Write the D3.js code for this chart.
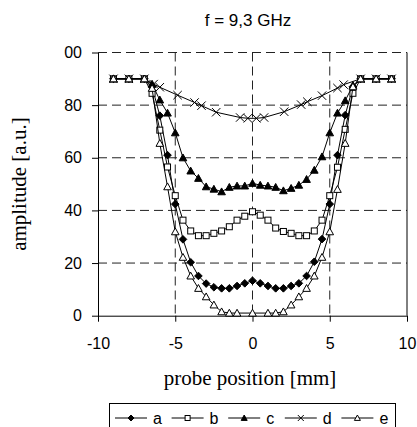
<!DOCTYPE html>
<html>
<head>
<meta charset="utf-8">
<script src="https://cdn.jsdelivr.net/npm/d3@7"></script>
<style>
  body { margin: 0; background: #fff; }
  svg { display: block; }
</style>
</head>
<body>
<div class="chart"></div>
<script>
var svgWidth = 417;
var svgHeight = 427;

// probe positions [mm] shared by series a, b, c, e
var positions = [-9, -8, -7, -6.5, -6, -5.5, -5, -4.5, -4, -3.5, -3, -2.5, -2, -1.5, -1, -0.5,
  0, 0.5, 1, 1.5, 2, 2.5, 3, 3.5, 4, 4.5, 5, 5.5, 6, 6.5, 7, 8, 9];

var seriesA = [90, 90, 90, 87, 76, 61, 42.4, 29, 20.3, 15.1, 12.2, 10.8, 10.4, 10.4, 11.3, 12.3,
  13.3, 12.3, 11.3, 10.4, 10.4, 11.3, 12.3, 15.1, 20.5, 29.1, 42.4, 61, 76.2, 87, 90, 90, 90];
var seriesB = [90, 90, 90, 84.5, 70.5, 56.5, 45.6, 36.3, 32.2, 30.4, 30.4, 31.3, 32.2, 33.8, 36.3, 37.8,
  39.5, 38.2, 36.3, 33.3, 32, 31.3, 30.4, 30.4, 32.2, 36.3, 45.6, 56.4, 70.8, 84.5, 90, 90, 90];
var seriesC = [90, 90, 90, 88, 82, 77, 69.5, 60, 55, 52.2, 49, 48.1, 47.1, 48.8, 49.3, 49.3,
  50.3, 49.6, 49.3, 48.8, 47.5, 48.4, 49.6, 51.8, 55.3, 60.4, 69.5, 77, 81.7, 87.5, 90, 90, 90];
var seriesE = [90, 90, 90, 86.4, 65.5, 49, 31.9, 22.2, 15.1, 10.4, 7.2, 4.1, 1.5, 1, 1, null,
  1, null, 1, 1, 1.5, 4.1, 7.2, 10.4, 15.1, 22.2, 31.9, 48, 65.5, 87, 90, 90, 90];

// series d was sampled at its own positions
var positionsD = [-9, -8, -7, -6.4, -6, -4.85, -3.75, -3.3, -2.35, -0.8, -0.3, 0.25, 0.75,
  2.05, 3.15, 3.55, 4.5, 5.5, 5.9, 7, 8, 9];
var seriesD = [90, 90, 90, 88, 86.8, 83.8, 81, 79.8, 77.3, 75.3, 75, 75, 75.3,
  77.5, 80.2, 81.3, 83.6, 86.5, 87.8, 90, 90, 90];

var seriesNames = ["a", "b", "c", "d", "e"];
var xTicks = [-10, -5, 0, 5, 10];
var xTickLabels = ["-10", "-5", "0", "5", "10"];
var yTicks = [0, 20, 40, 60, 80, 100];
var yTickLabels = ["0", "20", "40", "60", "80", "00"];

var plot = { left: 98, right: 407, top: 52.5, bottom: 315.7 };

var svg = d3.select(".chart")
  .append("svg")
  .attr("width", svgWidth)
  .attr("height", svgHeight);

var x = d3.scaleLinear().domain([-10, 10]).range([plot.left, plot.right]);
var y = d3.scaleLinear().domain([0, 100]).range([plot.bottom, plot.top]);

// dashed grid
svg.append("g").selectAll("line")
  .data(yTicks.filter(function(d) { return d > 0; }))
  .join("line")
  .attr("x1", plot.left).attr("x2", plot.right)
  .attr("y1", function(d) { return y(d); }).attr("y2", function(d) { return y(d); })
  .attr("stroke", "#222").attr("stroke-dasharray", "9,5");

svg.append("g").selectAll("line")
  .data([-5, 0, 5])
  .join("line")
  .attr("x1", function(d) { return x(d); }).attr("x2", function(d) { return x(d); })
  .attr("y1", plot.top).attr("y2", plot.bottom)
  .attr("stroke", "#222").attr("stroke-dasharray", "9,5");

// right border
svg.append("line")
  .attr("x1", plot.right).attr("x2", plot.right)
  .attr("y1", plot.top).attr("y2", plot.bottom)
  .attr("stroke", "#000");

// axes
var xAxis = d3.axisBottom(x)
  .tickValues(xTicks)
  .tickSize(6)
  .tickSizeOuter(0)
  .tickPadding(16)
  .tickFormat(function(d, i) { return xTickLabels[i]; });

var yAxis = d3.axisLeft(y)
  .tickValues(yTicks)
  .tickSize(6)
  .tickSizeOuter(0)
  .tickPadding(10)
  .tickFormat(function(d, i) { return yTickLabels[i]; });

svg.append("g")
  .attr("transform", "translate(0," + plot.bottom + ")")
  .call(xAxis)
  .call(function(g) {
    g.selectAll("text").attr("font-family", "Liberation Sans, Arial, sans-serif")
      .attr("font-size", 16).attr("fill", "#000");
    g.selectAll("line, path").attr("stroke", "#000");
  });

svg.append("g")
  .attr("transform", "translate(" + plot.left + ",0)")
  .call(yAxis)
  .call(function(g) {
    g.selectAll("text").attr("font-family", "Liberation Sans, Arial, sans-serif")
      .attr("font-size", 16).attr("fill", "#000");
    g.selectAll("line, path").attr("stroke", "#000");
  });

// markers
function drawMarker(g, kind, size) {
  var s = size;
  if (kind === "a") {
    g.append("path").attr("d", "M0," + (-s) + "L" + s + ",0L0," + s + "L" + (-s) + ",0Z")
      .attr("fill", "#000").attr("stroke", "#000");
  } else if (kind === "b") {
    g.append("rect").attr("x", -s + 0.5).attr("y", -s + 0.5)
      .attr("width", 2 * s - 1).attr("height", 2 * s - 1)
      .attr("fill", "#fff").attr("stroke", "#000");
  } else if (kind === "c" || kind === "e") {
    g.append("path").attr("d", "M0," + (-s) + "L" + s + "," + (s * 0.8) + "L" + (-s) + "," + (s * 0.8) + "Z")
      .attr("fill", kind === "c" ? "#000" : "#fff").attr("stroke", "#000");
  } else if (kind === "d") {
    g.append("path").attr("d", "M" + (-s) + "," + (-s) + "L" + s + "," + s + "M" + (-s) + "," + s + "L" + s + "," + (-s))
      .attr("fill", "none").attr("stroke", "#000");
  }
}

var allSeries = [
  { name: "a", xs: positions, ys: seriesA },
  { name: "b", xs: positions, ys: seriesB },
  { name: "c", xs: positions, ys: seriesC },
  { name: "d", xs: positionsD, ys: seriesD },
  { name: "e", xs: positions, ys: seriesE }
];

var line = d3.line()
  .x(function(d) { return x(d[0]); })
  .y(function(d) { return y(d[1]); });

allSeries.forEach(function(s) {
  var pts = s.xs.map(function(v, i) { return [v, s.ys[i]]; })
    .filter(function(p) { return p[1] != null; });
  var g = svg.append("g");
  g.append("path").datum(pts)
    .attr("d", line)
    .attr("fill", "none").attr("stroke", "#000").attr("stroke-width", 1);
  pts.forEach(function(p) {
    var m = g.append("g").attr("transform", "translate(" + x(p[0]) + "," + y(p[1]) + ")");
    drawMarker(m, s.name, s.name === "b" ? 3.5 : (s.name === "d" ? 4.2 : 3.8));
  });
});

// title and axis labels
svg.append("text")
  .attr("x", 248).attr("y", 26)
  .attr("text-anchor", "middle")
  .attr("font-family", "Liberation Sans, Arial, sans-serif")
  .attr("font-size", 17)
  .text("f = 9,3 GHz");

svg.append("text")
  .attr("transform", "translate(250,385) ")
  .attr("text-anchor", "middle")
  .attr("font-family", "Liberation Serif, Times New Roman, serif")
  .attr("font-size", 21)
  .text("probe position [mm]");

svg.append("text")
  .attr("transform", "translate(26," + ((plot.top + plot.bottom) / 2) + ") rotate(-90)")
  .attr("text-anchor", "middle")
  .attr("font-family", "Liberation Serif, Times New Roman, serif")
  .attr("font-size", 21)
  .text("amplitude [a.u.]");

// legend
var legend = svg.append("g");
legend.append("rect")
  .attr("x", 109.5).attr("y", 403.5).attr("width", 286).attr("height", 40)
  .attr("fill", "#fff").attr("stroke", "#000");

seriesNames.forEach(function(name, i) {
  var lx = 115 + i * 56.6;
  var ly = 418;
  var item = legend.append("g");
  item.append("line")
    .attr("x1", lx).attr("x2", lx + 32).attr("y1", ly).attr("y2", ly)
    .attr("stroke", "#000");
  var m = item.append("g").attr("transform", "translate(" + (lx + 16) + "," + ly + ")");
  drawMarker(m, name, 3);
  item.append("text")
    .attr("x", lx + 38).attr("y", ly + 6)
    .attr("font-family", "Liberation Sans, Arial, sans-serif")
    .attr("font-size", 16)
    .text(name);
});
</script>
</body>
</html>
